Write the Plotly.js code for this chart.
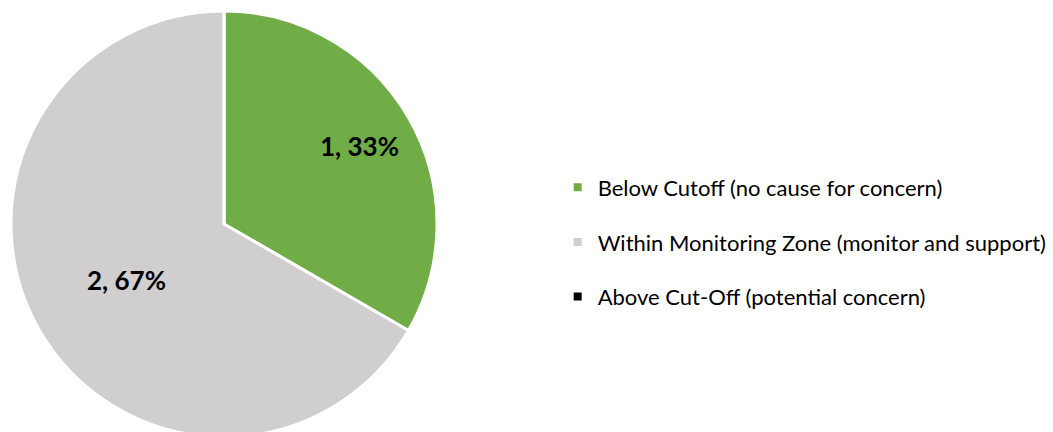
<!DOCTYPE html>
<html><head><meta charset="utf-8">
<script src="https://cdn.plot.ly/plotly-3.0.1.min.js"></script>
<style>html,body{margin:0;padding:0;overflow:hidden;background:#fff;}#chart{width:1053px;height:448px;}</style>
</head><body><div id="chart"></div>
<script>
const labels = ["Below Cutoff (no cause for concern)", "Within Monitoring Zone (monitor and support)", "Above Cut-Off (potential concern)"];
const values = [1, 2, 0];
const colors = ["#70AD47", "#D0CECE", "#000000"];

const W = 1053, H = 448;
const cx = 224, cy = 224, r = 213;
// radial placement of each slice's data label, as fraction of radius (layout setting)
const labelRadius = [0.735, 0.526, 0.6];

const pie = {
  type: 'pie', labels: labels, values: values, sort: false, direction: 'clockwise', rotation: 0,
  marker: {colors: colors, line: {color: '#ffffff', width: 3}},
  textinfo: 'none',
  hoverinfo: 'label+value+percent', showlegend: false,
  domain: {x: [(cx - r) / W, (cx + r) / W], y: [1 - (cy + r) / H, 1 - (cy - r) / H]}
};
const legendTraces = labels.map((l, i) => ({
  type: 'scatter', mode: 'markers', x: [null], y: [null], name: l, legendgroup: 'g' + i,
  marker: {symbol: 'square', size: 8, color: colors[i]}, hoverinfo: 'skip'
}));

const total = values.reduce((a, b) => a + b, 0);
const annotations = [];
let cum = 0;
values.forEach((v, i) => {
  if (v > 0) {
    const mid = (cum + v / 2) / total * 2 * Math.PI;
    const d = labelRadius[i] * r;
    annotations.push({
      xref: 'paper', yref: 'paper', showarrow: false,
      x: (cx + d * Math.sin(mid)) / W, y: 1 - (cy - d * Math.cos(mid)) / H,
      xanchor: 'center', yanchor: 'middle',
      text: v + ', ' + Math.round(v / total * 100) + '%',
      font: {family: 'Lato, "Liberation Sans", sans-serif', size: 26, color: '#000000', weight: 'bold'}
    });
  }
  cum += v;
});

Plotly.newPlot('chart', [pie].concat(legendTraces), {
  width: W, height: H, margin: {l: 0, r: 0, t: 0, b: 0},
  paper_bgcolor: '#fff', plot_bgcolor: '#fff',
  xaxis: {visible: false}, yaxis: {visible: false},
  annotations: annotations,
  showlegend: true,
  legend: {x: 0.5296, y: 0.4598, xanchor: 'left', yanchor: 'middle', tracegroupgap: 23, itemwidth: 30,
    font: {family: 'Lato, "Liberation Sans", sans-serif', size: 22, color: '#000000'}, bgcolor: 'rgba(0,0,0,0)'}
}, {displayModeBar: false, staticPlot: true});
</script></body></html>
